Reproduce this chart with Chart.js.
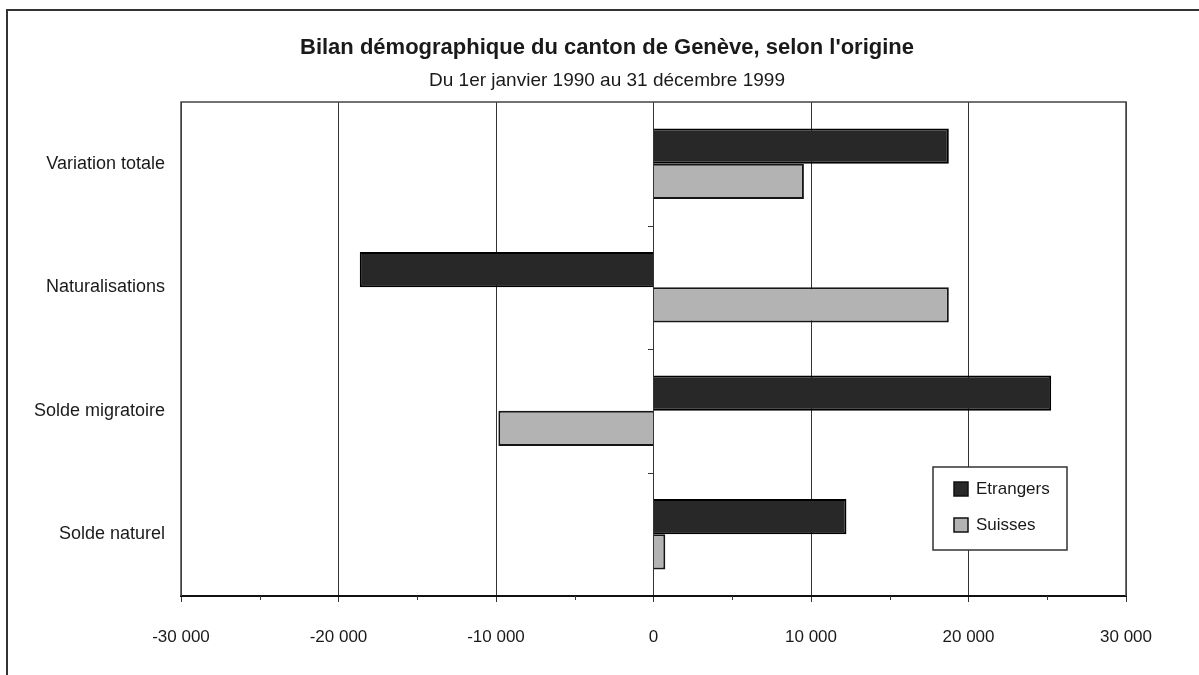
<!DOCTYPE html>
<html><head><meta charset="utf-8">
<script src="https://cdn.jsdelivr.net/npm/chart.js@4.4.0/dist/chart.umd.min.js"></script>
<style>html,body{margin:0;padding:0;background:#fff;}#wrap{width:1199px;height:675px;}</style>
</head><body><div id="wrap"><canvas id="c" width="1199" height="675"></canvas></div>
<script>
const titleText = "Bilan démographique du canton de Genève, selon l'origine";
const subtitleText = "Du 1er janvier 1990 au 31 décembre 1999";
const categories = ['Variation totale', 'Naturalisations', 'Solde migratoire', 'Solde naturel'];
const seriesNames = ['Etrangers', 'Suisses'];
const etrangers = [18750, -18650, 25250, 12250];
const suisses = [9550, 18750, -9850, 750];
const xMin = -30000, xMax = 30000, xStep = 10000, xMinorStep = 5000;

const FONT = "'Liberation Sans', Arial, sans-serif";

function fmt(v) {
  const s = Math.abs(v).toString().replace(/\B(?=(\d{3})+(?!\d))/g, ' ');
  return (v < 0 ? '-' : '') + s;
}

const decor = {
  id: 'decor',
  beforeDraw(chart) {
    const ctx = chart.ctx;
    ctx.save();
    ctx.fillStyle = '#fff';
    ctx.fillRect(0, 0, chart.width, chart.height);
    // outer frame
    ctx.strokeStyle = '#333';
    ctx.lineWidth = 2;
    ctx.beginPath();
    ctx.moveTo(7, chart.height);
    ctx.lineTo(7, 10);
    ctx.lineTo(chart.width, 10);
    ctx.stroke();
    // titles
    ctx.fillStyle = '#1a1a1a';
    ctx.textAlign = 'center';
    ctx.textBaseline = 'middle';
    ctx.font = 'bold 22px ' + FONT;
    ctx.fillText(titleText, 607, 48);
    ctx.font = '19px ' + FONT;
    ctx.fillText(subtitleText, 607, 81);
    ctx.restore();
  },
  beforeDatasetsDraw(chart) {
    const ctx = chart.ctx;
    const a = chart.chartArea;
    const xs = chart.scales.x, ys = chart.scales.y;
    ctx.save();
    // plot frame (left, top, right)
    ctx.strokeStyle = '#444';
    ctx.lineWidth = 1.5;
    ctx.beginPath();
    ctx.moveTo(a.left, a.bottom);
    ctx.lineTo(a.left, a.top);
    ctx.lineTo(a.right, a.top);
    ctx.lineTo(a.right, a.bottom);
    ctx.stroke();
    // minor ticks on x axis
    ctx.strokeStyle = '#333';
    ctx.lineWidth = 1;
    ctx.beginPath();
    for (let v = xMin; v <= xMax; v += xMinorStep) {
      if (v % xStep === 0) continue;
      const px = Math.round(xs.getPixelForValue(v)) + 0.5;
      ctx.moveTo(px, a.bottom);
      ctx.lineTo(px, a.bottom + 4);
    }
    ctx.stroke();
    // category separator ticks on the zero axis
    const zx = Math.round(xs.getPixelForValue(0));
    ctx.beginPath();
    for (let i = 0; i < categories.length - 1; i++) {
      const py = Math.round((ys.getPixelForValue(i) + ys.getPixelForValue(i + 1)) / 2) + 0.5;
      ctx.moveTo(zx - 6, py);
      ctx.lineTo(zx, py);
    }
    ctx.stroke();
    ctx.restore();
  },
  afterDraw(chart) {
    const ctx = chart.ctx;
    // legend box
    const bx = 933, by = 467, bw = 134, bh = 83;
    ctx.save();
    ctx.fillStyle = '#fff';
    ctx.fillRect(bx, by, bw, bh);
    ctx.strokeStyle = '#333';
    ctx.lineWidth = 1.5;
    ctx.strokeRect(bx, by, bw, bh);
    ctx.font = '17px ' + FONT;
    ctx.textBaseline = 'middle';
    ctx.textAlign = 'left';
    const rows = [489, 525];
    chart.data.datasets.forEach((ds, i) => {
      const y = rows[i];
      ctx.fillStyle = ds.backgroundColor;
      ctx.fillRect(954, y - 7, 14, 14);
      ctx.strokeStyle = '#111';
      ctx.lineWidth = 1.5;
      ctx.strokeRect(954, y - 7, 14, 14);
      ctx.fillStyle = '#1a1a1a';
      ctx.fillText(ds.label, 976, y);
    });
    ctx.restore();
  }
};

new Chart(document.getElementById('c'), {
  type: 'bar',
  data: {
    labels: categories,
    datasets: [
      { label: seriesNames[0], data: etrangers, backgroundColor: '#282828', borderColor: '#000', borderWidth: 2 },
      { label: seriesNames[1], data: suisses, backgroundColor: '#b3b3b3', borderColor: '#151515', borderWidth: 2 }
    ]
  },
  options: {
    indexAxis: 'y',
    responsive: false,
    animation: false,
    devicePixelRatio: 1,
    layout: { padding: { left: 14, right: 73, top: 102, bottom: 0 } },
    datasets: { bar: { categoryPercentage: 0.57, barPercentage: 1.0 } },
    plugins: {
      legend: { display: false },
      tooltip: { enabled: false },
      title: { display: false },
      subtitle: { display: false }
    },
    scales: {
      x: {
        type: 'linear', min: xMin, max: xMax,
        afterFit(s) { s.height = 79; },
        ticks: { stepSize: xStep, callback: (v) => fmt(v), color: '#1a1a1a', font: { family: FONT, size: 17 }, padding: 25, maxRotation: 0 },
        grid: { color: '#333', lineWidth: 1, tickLength: 6, tickColor: '#333' },
        border: { display: true, color: '#111', width: 2 }
      },
      y: {
        type: 'category',
        afterFit(s) { s.width = 167; },
        ticks: { color: '#1a1a1a', font: { family: FONT, size: 18 }, padding: 16 },
        grid: { display: false, drawTicks: false },
        border: { display: false }
      }
    }
  },
  plugins: [decor]
});
</script>
</body></html>
